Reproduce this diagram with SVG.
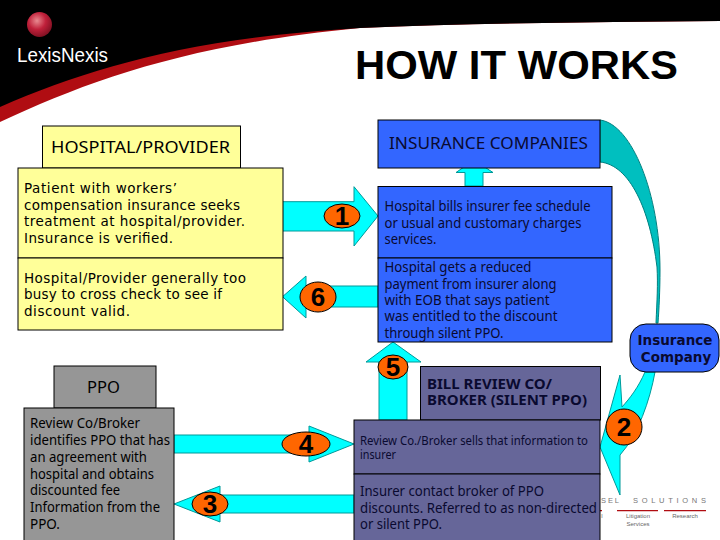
<svg xmlns="http://www.w3.org/2000/svg" width="720" height="540" viewBox="0 0 720 540">
<style>
text{font-family:"Noto Sans","DejaVu Sans",sans-serif;fill:#000}
.box{stroke:#000;stroke-width:1}
.y{fill:#ffff99}.b{fill:#3366ff}.g{fill:#969696}.p{fill:#666699}
.t{font-size:14px;fill:#0a0a30}
.tk{font-size:14px}
.m{font-family:"DejaVu Sans",sans-serif;font-size:13.5px}
.h{font-size:16px}
.s{font-size:12.5px;fill:#0a0a30}
.a{fill:#00ffff;stroke:#009999;stroke-width:1}
.o{fill:#ff6600;stroke:#000;stroke-width:1}
.n{font-family:"Liberation Sans",sans-serif;font-size:26px;font-weight:bold;text-anchor:middle}
.f{font-family:"Liberation Sans",sans-serif;font-size:7.5px;fill:#777}
.f2{font-family:"Liberation Sans",sans-serif;font-size:6px;fill:#666;text-anchor:middle}
</style>
<defs>
<radialGradient id="ball" cx="0.4" cy="0.35" r="0.7"><stop offset="0" stop-color="#e88a90"/><stop offset="0.5" stop-color="#c0203a"/><stop offset="1" stop-color="#7a0f20"/></radialGradient>
</defs>
<rect width="720" height="540" fill="#fff"/>
<g id="header">
<path d="M0,0H720V21C600,22 480,23 360,28C190,44 90,80 0,122Z" fill="#b00d12"/>
<path d="M0,0H720V21C600,22 480,23 360,28C190,38 90,68 0,107Z" fill="#000"/>
<circle cx="39.5" cy="24.5" r="12.5" fill="url(#ball)"/>
<text x="17" y="62" font-size="21" style="fill:#fff;font-family:'Liberation Sans',sans-serif" textLength="91" lengthAdjust="spacingAndGlyphs">LexisNexis</text>
</g>
<text id="title" x="355" y="79" font-size="40" font-weight="bold" style="font-family:'Liberation Sans',sans-serif" textLength="323" lengthAdjust="spacingAndGlyphs">HOW IT WORKS</text>
<g id="footer-logo">
<text class="f" x="601" y="503" textLength="18">SEL</text>
<text class="f" x="633" y="503" textLength="73">SOLUTIONS</text>
<path d="M600,510.700H602M617,510.700H658M664,510.700H706" stroke="#b00d12" stroke-width="1.2"/>
<text class="f2" x="602" y="518">l</text>
<text class="f2" x="638" y="518">Litigation</text>
<text class="f2" x="638" y="525.500">Services</text>
<text class="f2" x="685" y="518">Research</text>
</g>
<g id="connectors">
<path id="arrow-up" class="a" d="M465,186V172.5H456L474,160L493,172.5H483V186Z"/>
<path id="arrow-curve" d="M600,120C632,124 660,195 660,270C660,290 659,310 658,323L656,323C657,300 658,285 657,267C650,210 630,165 600,162Z" fill="#00bfbf" stroke="#008080" stroke-width="1"/>
<path id="arrow-1" class="a" d="M282.500,201.700H354V186.700L378,216L354,246V231H282.500Z"/>
<path id="arrow-6" class="a" d="M378,286H306V276L282.500,296.700L306,318V307H378Z"/>
<path id="arrow-5" class="a" d="M379,420V362H366L393,342L421,362H407V420Z"/>
<path id="arrow-4" class="a" d="M174,435H309V426L354,444L309,462V453H174Z"/>
<path id="arrow-3" class="a" d="M354,495H220V486L174,504L220,522V513H354Z"/>
<path id="arrow-2" class="a" d="M645,372C638,388 630,398 622,407L620,375L600,447L620,495L620,455C638,435 650,400 655,372Z"/>
</g>
<g id="hospital">
<rect class="box y" x="42.500" y="126" width="198" height="42"/>
<text class="h" x="51" y="153" textLength="179" lengthAdjust="spacingAndGlyphs">HOSPITAL/PROVIDER</text>
</g>
<g id="hospital-body">
<rect class="box y" x="18" y="168" width="265" height="90"/>
<rect class="box y" x="18" y="258" width="265" height="72"/>
<text class="m" x="24" y="193" textLength="153">Patient with workers’</text>
<text class="m" x="24" y="210" textLength="216">compensation insurance seeks</text>
<text class="m" x="24" y="226" textLength="221">treatment at hospital/provider.</text>
<text class="m" x="24" y="243" textLength="149">Insurance is verified.</text>
<text class="m" x="24" y="283" textLength="222">Hospital/Provider generally too</text>
<text class="m" x="24" y="299" textLength="198">busy to cross check to see if</text>
<text class="m" x="24" y="316" textLength="106">discount valid.</text>
</g>
<g id="insurance">
<rect class="box b" x="378" y="120" width="222" height="48"/>
<text class="h" style="fill:#0a0a30" x="389" y="149" textLength="199" lengthAdjust="spacingAndGlyphs">INSURANCE COMPANIES</text>
</g>
<g id="insurance-body">
<rect class="box b" x="378" y="186.500" width="234" height="71.500"/>
<rect class="box b" x="378" y="258" width="234" height="84"/>
<text class="t" x="384.500" y="211" textLength="206" lengthAdjust="spacingAndGlyphs">Hospital bills insurer fee schedule</text>
<text class="t" x="384.500" y="228" textLength="197" lengthAdjust="spacingAndGlyphs">or usual and customary charges</text>
<text class="t" x="384.500" y="244" textLength="52" lengthAdjust="spacingAndGlyphs">services.</text>
<text class="t" x="384.500" y="272" textLength="147" lengthAdjust="spacingAndGlyphs">Hospital gets a reduced</text>
<text class="t" x="384.500" y="289" textLength="172" lengthAdjust="spacingAndGlyphs">payment from insurer along</text>
<text class="t" x="384.500" y="305" textLength="165" lengthAdjust="spacingAndGlyphs">with EOB that says patient</text>
<text class="t" x="384.500" y="321" textLength="173" lengthAdjust="spacingAndGlyphs">was entitled to the discount</text>
<text class="t" x="384.500" y="338" textLength="119" lengthAdjust="spacingAndGlyphs">through silent PPO.</text>
</g>
<g id="insurance-company">
<rect x="630" y="324" width="89" height="48" rx="16" ry="16" class="box b"/>
<text x="675" y="345" text-anchor="middle" font-size="13.500" font-weight="bold" style="fill:#0a0a30;font-family:'DejaVu Sans',sans-serif">Insurance</text>
<text x="676" y="362" text-anchor="middle" font-size="13.500" font-weight="bold" style="fill:#0a0a30;font-family:'DejaVu Sans',sans-serif">Company</text>
</g>
<g id="ppo">
<rect class="box g" x="54" y="366" width="102" height="42"/>
<text class="h" x="87" y="393" textLength="33" lengthAdjust="spacingAndGlyphs">PPO</text>
</g>
<g id="ppo-body">
<rect class="box g" x="24" y="408" width="150" height="140"/>
<text class="tk" x="30" y="428" textLength="110" lengthAdjust="spacingAndGlyphs">Review Co/Broker</text>
<text class="tk" x="30" y="445" textLength="140" lengthAdjust="spacingAndGlyphs">identifies PPO that has</text>
<text class="tk" x="30" y="462" textLength="117" lengthAdjust="spacingAndGlyphs">an agreement with</text>
<text class="tk" x="30" y="479" textLength="124" lengthAdjust="spacingAndGlyphs">hospital and obtains</text>
<text class="tk" x="30" y="495" textLength="90" lengthAdjust="spacingAndGlyphs">discounted fee</text>
<text class="tk" x="30" y="512" textLength="130" lengthAdjust="spacingAndGlyphs">Information from the</text>
<text class="tk" x="30" y="529" textLength="30" lengthAdjust="spacingAndGlyphs">PPO.</text>
</g>
<g id="bill-review">
<rect class="box p" x="420.500" y="366.500" width="180" height="53.500"/>
<text x="427" y="389" font-size="13.500" font-weight="bold" style="fill:#0a0a30" textLength="125" lengthAdjust="spacingAndGlyphs">BILL REVIEW CO/</text>
<text x="427" y="405" font-size="13.500" font-weight="bold" style="fill:#0a0a30" textLength="160" lengthAdjust="spacingAndGlyphs">BROKER (SILENT PPO)</text>
</g>
<g id="bill-review-body">
<rect class="box p" x="354" y="420" width="246" height="54"/>
<rect class="box p" x="354" y="474" width="246" height="74"/>
<text class="s" x="360" y="445" textLength="228" lengthAdjust="spacingAndGlyphs">Review Co./Broker sells that information to</text>
<text class="s" x="360" y="459" textLength="36" lengthAdjust="spacingAndGlyphs">insurer</text>
<text class="t" x="360" y="496" textLength="184" lengthAdjust="spacingAndGlyphs">Insurer contact broker of PPO</text>
<text class="t" x="360" y="513" textLength="237" lengthAdjust="spacingAndGlyphs">discounts. Referred to as non-directed</text>
<text class="t" x="360" y="529" textLength="82" lengthAdjust="spacingAndGlyphs">or silent PPO.</text>
</g>
<g id="badges">
<ellipse class="o" cx="342" cy="216" rx="18" ry="12"/><text class="n" x="342" y="225">1</text>
<ellipse class="o" cx="318" cy="297" rx="18" ry="15"/><text class="n" x="318" y="306">6</text>
<ellipse class="o" cx="393" cy="367" rx="15" ry="12"/><text class="n" x="393" y="376">5</text>
<ellipse class="o" cx="306" cy="444" rx="24" ry="12"/><text class="n" x="306" y="453">4</text>
<ellipse class="o" cx="210" cy="504" rx="18" ry="12"/><text class="n" x="210" y="513">3</text>
<ellipse class="o" cx="624" cy="427" rx="18" ry="18"/><text class="n" x="624" y="436">2</text>
</g>
</svg>
